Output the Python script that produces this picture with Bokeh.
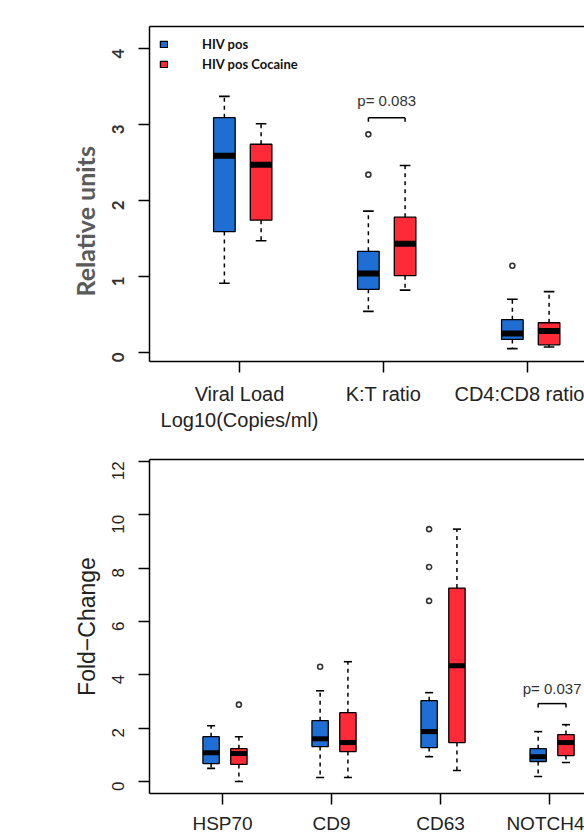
import math
from bokeh.plotting import figure
from bokeh.models import (Range1d, FixedTicker, LinearAxis, Legend, LegendItem,
                          ColumnDataSource)
from bokeh.layouts import column
from bokeh.embed import file_html
from bokeh.resources import INLINE
from bokeh.core.properties import value

BLUE = "#1F6ED4"
RED = "#FF2A38"
SERIES = ["HIV pos", "HIV pos Cocaine"]

# ---------------- top panel data ----------------
top_categories = ["Viral Load\nLog10(Copies/ml)", "K:T ratio", "CD4:CD8 ratio"]
top_hiv_low = [0.91, 0.54, 0.05]
top_hiv_q1 = [1.59, 0.83, 0.17]
top_hiv_med = [2.59, 1.04, 0.25]
top_hiv_q3 = [3.09, 1.33, 0.43]
top_hiv_high = [3.37, 1.86, 0.70]
top_hiv_out = [[], [2.87, 2.34], [1.14]]
top_coc_low = [1.47, 0.82, 0.07]
top_coc_q1 = [1.74, 1.01, 0.10]
top_coc_med = [2.47, 1.43, 0.28]
top_coc_q3 = [2.74, 1.78, 0.39]
top_coc_high = [3.01, 2.46, 0.80]
top_coc_out = [[], [], []]
top_yticks = [0, 1, 2, 3, 4]
top_p_text = ["p= 0.083"]
top_p_group = [2]
top_p_bracket = [3.09]
top_p_label = [3.32]

# ---------------- bottom panel data ----------------
bot_categories = ["HSP70", "CD9", "CD63", "NOTCH4"]
bot_hiv_low = [0.49, 0.15, 0.93, 0.19]
bot_hiv_q1 = [0.67, 1.31, 1.27, 0.75]
bot_hiv_med = [1.08, 1.60, 1.87, 0.93]
bot_hiv_q3 = [1.68, 2.28, 3.03, 1.23]
bot_hiv_high = [2.09, 3.40, 3.33, 1.87]
bot_hiv_out = [[], [4.30], [9.46, 8.04, 6.77], []]
bot_coc_low = [0.0, 0.15, 0.41, 0.71]
bot_coc_q1 = [0.64, 1.12, 1.46, 0.97]
bot_coc_med = [1.05, 1.46, 4.34, 1.46]
bot_coc_q3 = [1.23, 2.58, 7.25, 1.76]
bot_coc_high = [1.68, 4.49, 9.46, 2.13]
bot_coc_out = [[2.88], [], [], []]
bot_yticks = [0, 2, 4, 6, 8, 10, 12]
bot_p_text = ["p= 0.037"]
bot_p_group = [4]
bot_p_bracket = [2.92]
bot_p_label = [3.48]

OFF_B, OFF_R, BOXW, CAPW = -0.105, 0.15, 0.15, 0.037
TOP_H, BOT_H = 440, 396


def draw_series(p, pos, low, q1, med, q3, high, outs, color, medw):
    src = ColumnDataSource(dict(
        x=pos, low=low, q1=q1, med=med, q3=q3, high=high,
        cl=[x - CAPW for x in pos], cr=[x + CAPW for x in pos],
        ml=[x - BOXW / 2 for x in pos], mr=[x + BOXW / 2 for x in pos]))
    p.segment(x0="x", y0="q3", x1="x", y1="high", source=src, line_color="black",
              line_width=1.5, line_dash="4 4")
    p.segment(x0="x", y0="q1", x1="x", y1="low", source=src, line_color="black",
              line_width=1.5, line_dash="4 4")
    p.segment(x0="cl", y0="high", x1="cr", y1="high", source=src, line_color="black", line_width=1.6)
    p.segment(x0="cl", y0="low", x1="cr", y1="low", source=src, line_color="black", line_width=1.6)
    r = p.vbar(x="x", width=BOXW, bottom="q1", top="q3", source=src, fill_color=color,
               line_color="black", line_width=1.3)
    p.segment(x0="ml", y0="med", x1="mr", y1="med", source=src, line_color="black",
              line_width=medw, line_cap="butt")
    ox, oy = [], []
    for x, vals in zip(pos, outs):
        for v in vals:
            ox.append(x)
            oy.append(v)
    if ox:
        p.scatter(ox, oy, marker="circle", size=5, fill_color=None, line_color="#333333",
                  line_width=1.6)
    return r


def make_panel(height, top_b, bottom_b, xr, yr, yticks, ntick):
    p = figure(width=584, height=height, x_range=Range1d(*xr), y_range=Range1d(*yr),
               output_backend="svg", toolbar_location=None,
               min_border_left=149, min_border_right=0,
               min_border_top=top_b, min_border_bottom=bottom_b)
    p.outline_line_color = None
    p.grid.visible = False
    p.background_fill_color = "white"
    p.border_fill_color = "white"
    for ax in p.xaxis + p.yaxis:
        ax.axis_line_width = 1.5
        ax.axis_line_color = "black"
        ax.major_tick_line_width = 1.5
        ax.major_tick_line_color = "black"
        ax.major_tick_in = 0
        ax.major_tick_out = 11
        ax.minor_tick_line_color = None
    p.yaxis.ticker = FixedTicker(ticks=yticks)
    p.yaxis.major_label_orientation = math.pi / 2
    p.xaxis.ticker = FixedTicker(ticks=list(range(1, ntick + 1)))
    top_ax = LinearAxis(ticker=FixedTicker(ticks=[]), major_tick_out=0, major_tick_in=0,
                        major_label_text_font_size="0px", axis_line_width=1.5,
                        axis_line_color="black", minor_tick_line_color=None)
    p.add_layout(top_ax, "above")
    return p


def add_pvalue(p, groups, ytxt, ybr, texts, drop):
    xb = [g + OFF_B for g in groups]
    xr_ = [g + OFF_R for g in groups]
    xm = [(a + b) / 2 for a, b in zip(xb, xr_)]
    p.segment(x0=xb, y0=ybr, x1=xr_, y1=ybr, line_color="black", line_width=1.5)
    p.segment(x0=xb, y0=ybr, x1=xb, y1=[y - drop for y in ybr], line_color="black", line_width=1.5)
    p.segment(x0=xr_, y0=ybr, x1=xr_, y1=[y - drop for y in ybr], line_color="black", line_width=1.5)
    p.text(x=xm, y=ytxt, text=texts, text_align="center", text_baseline="middle",
           text_font=value("Liberation Sans"), text_font_size="15px", text_color="#333333")


# ---------------- top figure ----------------
ntop = len(top_categories)
gtop = list(range(1, ntop + 1))
p1 = make_panel(TOP_H, 26, 79, (0.375, 3.396), (-0.12, 4.29), top_yticks, ntop)
rb = draw_series(p1, [g + OFF_B for g in gtop], top_hiv_low, top_hiv_q1, top_hiv_med,
                 top_hiv_q3, top_hiv_high, top_hiv_out, BLUE, 6)
rr = draw_series(p1, [g + OFF_R for g in gtop], top_coc_low, top_coc_q1, top_coc_med,
                 top_coc_q3, top_coc_high, top_coc_out, RED, 6)
add_pvalue(p1, top_p_group, top_p_label, top_p_bracket, top_p_text, 0.055)
p1.xaxis.major_label_overrides = {g: c for g, c in zip(gtop, top_categories)}
p1.xaxis.major_label_text_font = "Liberation Sans"
p1.xaxis.major_label_text_font_size = "20px"
p1.xaxis.major_label_text_color = "#222222"
p1.xaxis.major_label_standoff = 10
p1.yaxis.major_label_text_font = "Lato"
p1.yaxis.major_label_text_font_style = "bold"
p1.yaxis.major_label_text_font_size = "17px"
p1.yaxis.major_label_text_color = "#333333"
p1.yaxis.major_label_standoff = 20
# trailing no-break spaces shift the rotated title downward, as in the reference
p1.yaxis.axis_label = "Relative units" + "\u00a0" * 9
p1.yaxis.axis_label_text_font = "Lato"
p1.yaxis.axis_label_text_font_style = "bold"
p1.yaxis.axis_label_text_font_size = "25px"
p1.yaxis.axis_label_text_color = "#5A5A5A"
p1.yaxis.axis_label_standoff = 4
legend = Legend(items=[LegendItem(label=SERIES[0], renderers=[rb]),
                       LegendItem(label=SERIES[1], renderers=[rr])],
                location="top_left", margin=10, padding=0, spacing=4,
                glyph_width=9, glyph_height=8, label_height=14, label_standoff=34,
                border_line_color=None, background_fill_alpha=0,
                label_text_font="Lato", label_text_font_style="bold",
                label_text_font_size="13px", label_text_color="#111111")
p1.add_layout(legend)

# ---------------- bottom figure ----------------
nbot = len(bot_categories)
gbot = list(range(1, nbot + 1))
p2 = make_panel(BOT_H, 19, BOT_H - 19 - 335, (0.33, 4.32), (-0.45, 12.07), bot_yticks, nbot)
draw_series(p2, [g + OFF_B for g in gbot], bot_hiv_low, bot_hiv_q1, bot_hiv_med,
            bot_hiv_q3, bot_hiv_high, bot_hiv_out, BLUE, 5)
draw_series(p2, [g + OFF_R for g in gbot], bot_coc_low, bot_coc_q1, bot_coc_med,
            bot_coc_q3, bot_coc_high, bot_coc_out, RED, 5)
add_pvalue(p2, bot_p_group, bot_p_label, bot_p_bracket, bot_p_text, 0.15)
p2.xaxis.major_label_overrides = {g: c for g, c in zip(gbot, bot_categories)}
p2.xaxis.major_label_text_font = "Liberation Sans"
p2.xaxis.major_label_text_font_size = "19px"
p2.xaxis.major_label_text_color = "#222222"
p2.xaxis.major_label_standoff = 8
p2.yaxis.axis_label = "Fold\u2212Change"
p2.yaxis.axis_label_text_font = "Liberation Sans"
p2.yaxis.axis_label_text_font_style = "normal"
p2.yaxis.axis_label_text_font_size = "23px"
p2.yaxis.axis_label_text_color = "#222222"
p2.yaxis.axis_label_standoff = 4
p2.yaxis.major_label_text_font = "Liberation Sans"
p2.yaxis.major_label_text_font_size = "17px"
p2.yaxis.major_label_text_color = "#222222"
p2.yaxis.major_label_standoff = 20

layout = column(p1, p2, spacing=0)
open("out.html", "w").write(file_html(layout, INLINE))
